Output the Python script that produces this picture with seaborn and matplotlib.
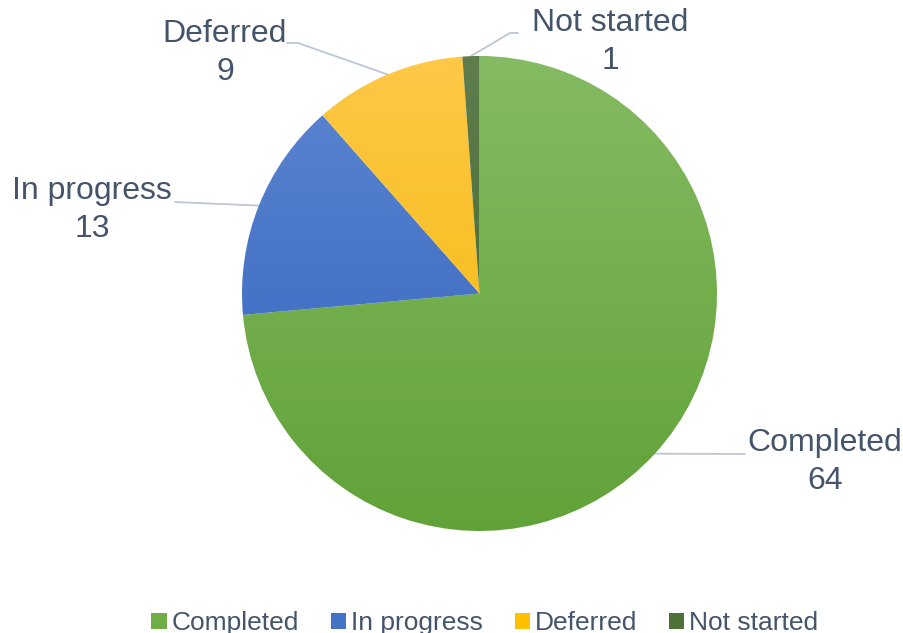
import numpy as np
import matplotlib
matplotlib.use("Agg")
import matplotlib.pyplot as plt
from matplotlib.colors import LinearSegmentedColormap
from matplotlib.patches import Patch
import seaborn as sns

categories = ["Completed", "In progress", "Deferred", "Not started"]
values = [64, 13, 9, 1]
top_colors = ["#85BB62", "#5E87D2", "#FFC847", "#5F7D4D"]
bottom_colors = ["#61A238", "#2E60BB", "#F0B700", "#3E6326"]
mid_colors = ["#70AD47", "#4472C4", "#FFC000", "#4E7137"]

sns.set_theme(style="white")
plt.rcParams["font.family"] = ["Liberation Sans", "DejaVu Sans"]
text_color = "#44546A"
line_color = "#BCC6D4"

W, H = 904, 633
fig = plt.figure(figsize=(W / 100, H / 100), dpi=100)
cx, cy, r = 479.5, 293.5, 237.5
ax = fig.add_axes([(cx - r) / W, (H - cy - r) / H, 2 * r / W, 2 * r / H])
ax.set_xlim(-1, 1)
ax.set_ylim(-1, 1)
ax.set_aspect("equal")
ax.axis("off")

palette = sns.color_palette(mid_colors)
wedges, _ = ax.pie(values, startangle=90, counterclock=False,
                   colors=palette, radius=1, center=(0, 0),
                   wedgeprops=dict(linewidth=0))

grad = np.linspace(1, 0, 256).reshape(-1, 1)
for w, tc, bc in zip(wedges, top_colors, bottom_colors):
    cmap = LinearSegmentedColormap.from_list("g", [bc, tc])
    w.set_facecolor("none")
    im = ax.imshow(grad, cmap=cmap, extent=(-1, 1, -1, 1), origin="upper",
                   aspect="auto", zorder=1, interpolation="bicubic")
    im.set_clip_path(w)
ax.set_xlim(-1, 1)
ax.set_ylim(-1, 1)

def px2d(px, py):
    return (px - cx) / r, (cy - py) / r

# label positions (text centres) and leader line anchors
label_pos = [px2d(825, 462), px2d(92, 210), px2d(225, 53), px2d(610, 42)]
line_pts = [[px2d(745, 454)], [px2d(175, 202)],
            [px2d(298, 43), px2d(287, 43)], [px2d(510, 33), px2d(518, 33)]]

total = sum(values)
ang = 90.0
for cat, v, lp, pts in zip(categories, values, label_pos, line_pts):
    span = v / total * 360
    mid = np.deg2rad(ang - span / 2)
    ang -= span
    ex, ey = np.cos(mid), np.sin(mid)
    xs = [ex] + [p[0] for p in pts]
    ys = [ey] + [p[1] for p in pts]
    ax.plot(xs, ys, color=line_color, lw=1.3, clip_on=False, zorder=0.5)
    ax.text(lp[0], lp[1], f"{cat}\n{v}", ha="center", va="center",
            fontsize=23, color=text_color, linespacing=1.32, clip_on=False)

handles = [Patch(facecolor=c, edgecolor="none") for c in mid_colors]
fig.legend(handles, categories, loc="lower center", ncol=4,
           bbox_to_anchor=(485 / W, -0.041), frameon=False,
           fontsize=19, labelcolor=text_color, handlelength=0.57,
           handleheight=0.57, handletextpad=0.2, columnspacing=1.2)

fig.savefig("out.png", dpi=100)
